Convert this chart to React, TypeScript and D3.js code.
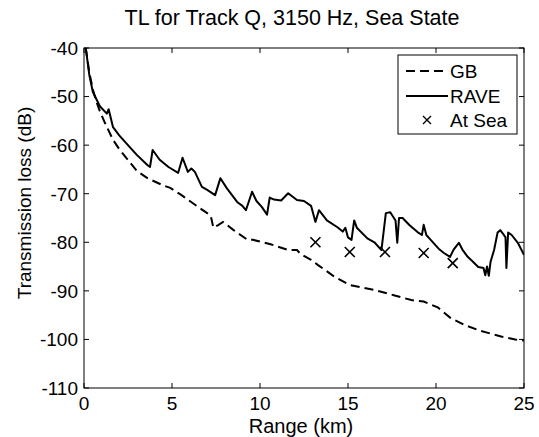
import React from "react";
import * as d3 from "d3";

const gbRange = [0.1,0.3,0.5,0.7,0.9,1.2,1.65,2.0,2.6,3.0,3.6,4.5,4.9,5.5,6.4,7.0,7.2,7.35,7.6,7.9,8.5,9.3,9.6,10.6,11.6,12.1,12.3,12.9,13.3,14.2,15.1,16.5,17.6,18.6,19.3,20.1,20.8,21.6,22.5,23.7,24.5,25];
const gbLoss = [-40,-45,-48.5,-51,-53,-55.5,-58.9,-60.8,-63.5,-65.3,-66.8,-68.3,-68.8,-70.2,-72.5,-74,-74.5,-77,-76.5,-75.8,-77.5,-79.5,-79.5,-80.4,-81.6,-81.6,-82.4,-83.6,-84.7,-87,-88.8,-89.8,-90.9,-91.9,-92.2,-93.4,-95.5,-97,-98.2,-99.4,-100,-100.2];

const raveRange = [0.1,0.3,0.5,0.9,1.3,1.4,1.65,2.0,2.6,3.0,3.6,3.75,3.9,4.3,4.8,5.35,5.6,5.9,6.1,6.3,6.7,7.0,7.45,7.75,8.1,8.7,9.0,9.2,9.55,9.8,10.1,10.4,10.55,10.8,11.2,11.6,12.1,12.5,12.9,13.15,13.35,13.8,14.4,14.7,14.85,15.0,15.2,15.35,15.5,16.1,16.5,16.9,17.15,17.4,17.7,17.8,17.9,18.1,18.5,18.95,19.2,19.3,19.45,19.7,20.2,20.45,20.8,21.0,21.3,21.5,21.8,22.1,22.4,22.7,22.8,22.9,23.0,23.1,23.3,23.5,23.65,23.8,23.95,24.0,24.1,24.3,24.65,25];
const raveLoss = [-40,-45.5,-49,-52,-53.5,-52.6,-56.3,-58,-60.4,-62,-64.1,-64.5,-61,-63,-64.5,-65.7,-62.6,-65.5,-64.8,-65.5,-68.6,-69.2,-70.3,-66.8,-68.8,-71.7,-72.5,-73.4,-69.6,-71.5,-72.7,-74.3,-70.8,-71.2,-71.4,-69.9,-71.3,-71.5,-72.5,-75.8,-73.4,-75.5,-76.9,-77.8,-77,-79,-79.5,-75.5,-77,-79.2,-80,-81.6,-74,-73.8,-75.5,-80.1,-75,-75,-76.5,-77.9,-78.5,-76.4,-78.5,-79.5,-81.5,-82.2,-83,-81.5,-80.1,-81.5,-83,-84,-85.1,-85.3,-86.8,-85,-86.9,-84,-81.6,-78,-77.5,-78.2,-79,-85.3,-78,-78.5,-80.1,-82.6];

const seaRange = [13.15, 15.1, 17.1, 19.3, 20.95];
const seaLoss = [-80.0, -82.0, -82.0, -82.2, -84.3];

const xTicks = [0, 5, 10, 15, 20, 25];
const yTicks = [-40, -50, -60, -70, -80, -90, -100, -110];

const W = 539, H = 437;
const L = 84, R = 524, T = 48, B = 388;
const FONT = "'Liberation Sans', Arial, sans-serif";

export default function App() {
  const x = d3.scaleLinear().domain([0, 25]).range([L, R]);
  const y = d3.scaleLinear().domain([-110, -40]).range([B, T]);
  const line = d3.line<[number, number]>().x(d => x(d[0])).y(d => y(d[1]));
  const gb = line(gbRange.map((r, i) => [r, gbLoss[i]]) as [number, number][]) || "";
  const rave = line(raveRange.map((r, i) => [r, raveLoss[i]]) as [number, number][]) || "";
  const tl = 5;
  const cross = (cx: number, cy: number, s: number) =>
    `M${cx - s},${cy - s}L${cx + s},${cy + s}M${cx - s},${cy + s}L${cx + s},${cy - s}`;

  const lgX = 398, lgY = 55, lgW = 119, lgH = 79;
  const rows = [71, 96, 120];

  return (
    <svg width={W} height={H} style={{ position: "absolute", left: 0, top: 0, background: "#fff" }}
      fontFamily={FONT}>
      <rect x={0} y={0} width={W} height={H} fill="#fff" />
      <text x={292} y={25} textAnchor="middle" fontSize={21.5} fill="#000">TL for Track Q, 3150 Hz, Sea State</text>
      <defs>
        <clipPath id="pc"><rect x={L} y={T} width={R - L} height={B - T} /></clipPath>
      </defs>
      <g clipPath="url(#pc)">
        <path d={gb} fill="none" stroke="#000" strokeWidth={2} strokeDasharray="9,5" />
        <path d={rave} fill="none" stroke="#000" strokeWidth={2} strokeLinejoin="round" />
        {seaRange.map((r, i) => (
          <path key={i} d={cross(x(r), y(seaLoss[i]), 5)} stroke="#000" strokeWidth={1.6} fill="none" />
        ))}
      </g>
      <rect x={L} y={T} width={R - L} height={B - T} fill="none" stroke="#000" strokeWidth={1} />
      {xTicks.map(v => (
        <g key={"x" + v}>
          <line x1={x(v)} x2={x(v)} y1={B} y2={B - tl} stroke="#000" />
          <line x1={x(v)} x2={x(v)} y1={T} y2={T + tl} stroke="#000" />
          <text x={x(v)} y={B + 22} textAnchor="middle" fontSize={19}>{v}</text>
        </g>
      ))}
      {yTicks.map(v => (
        <g key={"y" + v}>
          <line x1={L} x2={L + tl} y1={y(v)} y2={y(v)} stroke="#000" />
          <line x1={R} x2={R - tl} y1={y(v)} y2={y(v)} stroke="#000" />
          <text x={L - 6} y={y(v)} dy="0.36em" textAnchor="end" fontSize={19}>{v}</text>
        </g>
      ))}
      <text x={301} y={433} textAnchor="middle" fontSize={20}>Range (km)</text>
      <text transform={`translate(31,${(T + B) / 2 - 15}) rotate(-90)`} textAnchor="middle" fontSize={19}>Transmission loss (dB)</text>
      <rect x={lgX} y={lgY} width={lgW} height={lgH} fill="#fff" stroke="#000" strokeWidth={1} />
      <line x1={406} x2={448} y1={rows[0]} y2={rows[0]} stroke="#000" strokeWidth={2} strokeDasharray="9,5" />
      <text x={450} y={rows[0]} dy="0.36em" fontSize={19}>GB</text>
      <line x1={406} x2={448} y1={rows[1]} y2={rows[1]} stroke="#000" strokeWidth={2} />
      <text x={450} y={rows[1]} dy="0.36em" fontSize={19}>RAVE</text>
      <path d={cross(427, rows[2], 4)} stroke="#000" strokeWidth={1.4} fill="none" />
      <text x={450} y={rows[2]} dy="0.36em" fontSize={19}>At Sea</text>
    </svg>
  );
}
